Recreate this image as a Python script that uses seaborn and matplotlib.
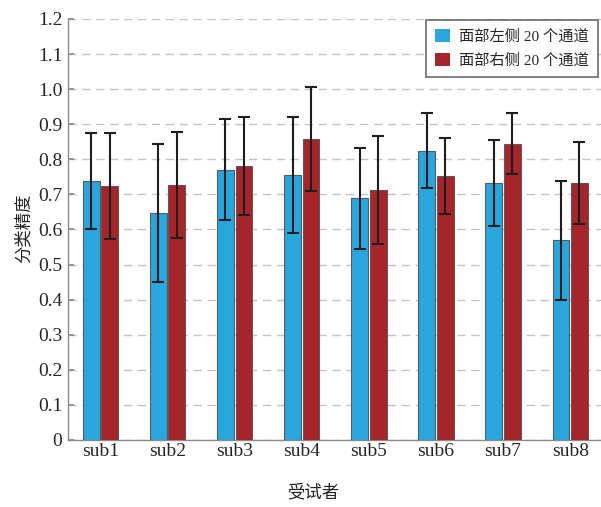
import matplotlib
matplotlib.use("Agg")
import matplotlib.pyplot as plt
import seaborn as sns
import pandas as pd
import numpy as np

subjects = ["sub1", "sub2", "sub3", "sub4", "sub5", "sub6", "sub7", "sub8"]
series_names = ["面部左侧 20 个通道", "面部右侧 20 个通道"]
left_mean = [0.737, 0.646, 0.771, 0.755, 0.689, 0.825, 0.732, 0.569]
left_err = [0.137, 0.197, 0.145, 0.165, 0.144, 0.107, 0.123, 0.170]
right_mean = [0.724, 0.727, 0.781, 0.859, 0.712, 0.752, 0.845, 0.733]
right_err = [0.151, 0.152, 0.140, 0.148, 0.154, 0.109, 0.087, 0.117]
yticks = [0, 0.1, 0.2, 0.3, 0.4, 0.5, 0.6, 0.7, 0.8, 0.9, 1.0, 1.1, 1.2]
ytick_labels = ["0", "0.1", "0.2", "0.3", "0.4", "0.5", "0.6", "0.7", "0.8", "0.9", "1.0", "1.1", "1.2"]
colors = ["#2AA6DF", "#A6252B"]

sns.set_theme(style="white")
plt.rcParams["font.family"] = ["Liberation Serif", "Noto Sans CJK SC"]
FAM = ["Liberation Serif", "Noto Sans CJK SC"]

df = pd.DataFrame({
    "subject": subjects * 2,
    "series": [series_names[0]] * len(subjects) + [series_names[1]] * len(subjects),
    "value": left_mean + right_mean,
})
errs = [left_err, right_err]

fig = plt.figure(figsize=(6.01, 5.07), dpi=100)
ax = fig.add_axes([68 / 601, 1 - 440 / 507, 1 - 68 / 601, (440 - 19) / 507])

sns.barplot(data=df, x="subject", y="value", hue="series", order=subjects,
            hue_order=series_names, palette=colors, saturation=1, width=0.55, gap=0.09,
            edgecolor="#5a5a5a", linewidth=0.8, errorbar=None, ax=ax, zorder=3)

for cont, e in zip(ax.containers, errs):
    xs = [p.get_x() + p.get_width() / 2 for p in cont.patches]
    ys = [p.get_height() for p in cont.patches]
    ax.errorbar(xs, ys, yerr=e, fmt="none", ecolor="#1e1e1e", elinewidth=1.5,
                capsize=4.5, capthick=1.5, zorder=4)

ax.set_ylim(0, 1.2)
ax.set_xlim(-0.485, 7.46)
ax.set_yticks(yticks)
ax.set_yticklabels(ytick_labels, family=FAM, fontsize=14)
ax.set_xticks(range(len(subjects)))
ax.set_xticklabels(subjects, family=FAM, fontsize=14)

ax.grid(axis="y", color="#c4c4c4", linestyle=(0, (6, 4)), linewidth=1.0, zorder=0)
ax.set_axisbelow(True)

for s in ["top", "right"]:
    ax.spines[s].set_visible(False)
for s in ["left", "bottom"]:
    ax.spines[s].set_color("#8a8a8a")
    ax.spines[s].set_linewidth(1.0)
ax.tick_params(axis="y", direction="in", length=4, color="#8a8a8a", pad=4, left=True)
ax.tick_params(axis="x", length=0, pad=2)

ax.set_xlabel("受试者", family=FAM, fontsize=12.5, color="#222222")
ax.xaxis.label.set_va("center")
ax.xaxis.set_label_coords(0.46, -0.126)
ax.set_ylabel("分类精度", family=FAM, fontsize=12.5, color="#222222")
ax.yaxis.label.set_va("center")
ax.yaxis.set_label_coords(-0.081, 0.504)

leg = ax.legend(loc="upper right", bbox_to_anchor=(598 / 601, 1 - 20 / 507),
                bbox_transform=fig.transFigure, borderaxespad=0,
                prop={"family": FAM, "size": 11}, fancybox=False,
                frameon=True, edgecolor="#555555", handlelength=0.95,
                handleheight=0.95, handletextpad=0.6, labelspacing=0.6,
                borderpad=0.6, title=None)
leg.get_frame().set_linewidth(1.3)
for h in leg.legend_handles:
    h.set_edgecolor("none")

fig.savefig("out.png", dpi=100)
